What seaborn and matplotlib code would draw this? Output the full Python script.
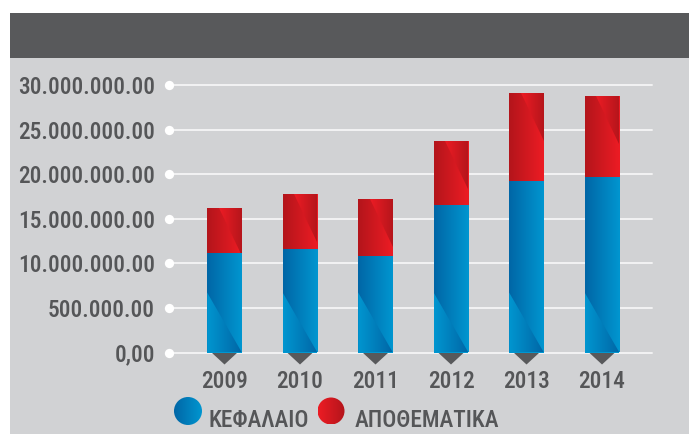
import numpy as np
import pandas as pd
import matplotlib
matplotlib.use('Agg')
import matplotlib.pyplot as plt
import seaborn as sns
from matplotlib.patches import Rectangle, Polygon, Circle
from matplotlib.colors import to_rgb

# ---- data ----
years = ['2009', '2010', '2011', '2012', '2013', '2014']
kefalaio = [11.15e6, 11.6e6, 10.85e6, 16.5e6, 19.2e6, 19.7e6]
apothematika = [5.05e6, 6.2e6, 6.35e6, 7.2e6, 9.9e6, 9.05e6]
ytick_vals = [0, 5e6, 10e6, 15e6, 20e6, 25e6, 30e6]
ytick_labels = ['0,00', '500.000.00', '10.000.000.00', '15.000.000.00',
                '20.000.000.00', '25.000.000.00', '30.000.000.00']
legend_labels = ['ΚΕΦΑΛΑΙΟ', 'ΑΠΟΘΕΜΑΤΙΚΑ']

# ---- style ----
GRAY = '#d1d2d4'
DARK = '#58595b'
TEXT = '#555658'
GRID = '#f2f2f3'
BLUE_D, BLUE_L = '#0066a6', '#0096d0'
RED_D, RED_L = '#b3151b', '#ed1c24'
FS = 16.8
FW = 'medium'

sns.set_theme(style='white')
plt.rcParams['font.family'] = ['Roboto Condensed', 'DejaVu Sans']
plt.rcParams['font.weight'] = FW

W, H = 689, 434
fig = plt.figure(figsize=(W / 100, H / 100), dpi=100)
fig.patch.set_facecolor('white')

# background axes in pixel coordinates
bg = fig.add_axes([0, 0, 1, 1], zorder=0)
bg.set_xlim(0, W)
bg.set_ylim(H, 0)
bg.axis('off')
bg.add_patch(Rectangle((10, 58), W - 10, H - 58, color=GRAY, lw=0))
bg.add_patch(Rectangle((10, 13), W - 10, 45, color=DARK, lw=0))


def gradient(axx, extent, c1, c2, clip, z):
    t = np.linspace(0, 1, 256)[None, :, None]
    img = (1 - t) * np.array(to_rgb(c1)) + t * np.array(to_rgb(c2))
    im = axx.imshow(img, extent=extent, aspect='auto', interpolation='bilinear',
                    origin='lower', zorder=z)
    im.set_clip_path(clip)
    return im


# main axes
ax_left, ax_right = 169, 652
ax_top, ax_bot = 85, 352.5
ax = fig.add_axes([ax_left / W, (H - ax_bot) / H, (ax_right - ax_left) / W,
                   (ax_bot - ax_top) / H], zorder=1)
ax.patch.set_alpha(0)

df = pd.DataFrame({'year': years, 'kef': kefalaio, 'apo': apothematika})
df['total'] = df['kef'] + df['apo']

sns.barplot(data=df, x='year', y='total', color=RED_L, width=0.46, ax=ax,
            zorder=2, saturation=1, errorbar=None, linewidth=0)
red_patches = list(ax.patches)
sns.barplot(data=df, x='year', y='kef', color=BLUE_L, width=0.46, ax=ax,
            zorder=3, saturation=1, errorbar=None, linewidth=0)
blue_patches = list(ax.patches)[len(red_patches):]

XLIM = (-0.735, 5.662)
YLIM = (0, 30e6)
ypx = (YLIM[1] - YLIM[0]) / (ax_bot - ax_top)

# gradients on bars
for p in red_patches:
    x0, w, h = p.get_x(), p.get_width(), p.get_height()
    x1 = x0 + w
    gradient(ax, [x0, x1, 0, h], RED_D, RED_L, p, 2.1)
    tri = Polygon([(x0 + w / 3, h), (x1, h), (x1, h - 48 * ypx)],
                  closed=True, transform=ax.transData)
    gradient(ax, [x0 + w / 3, x1, h - 48 * ypx, h], RED_L, RED_D, tri, 2.2)

for p in blue_patches:
    x0, w, h = p.get_x(), p.get_width(), p.get_height()
    x1 = x0 + w
    gradient(ax, [x0, x1, 0, h], BLUE_D, BLUE_L, p, 3.1)
    tri = Polygon([(x0, 0), (x0, 60 * ypx), (x1, 0)], closed=True,
                  transform=ax.transData)
    gradient(ax, [x0, x1, 0, 60 * ypx], BLUE_L, BLUE_D, tri, 3.2)

# triangles below bars
for i in range(len(years)):
    ax.add_patch(Polygon([(i - 0.172, 0), (i + 0.172, 0), (i, -12 * ypx)],
                         closed=True, color=DARK, lw=0, clip_on=False, zorder=1.5))

# gridlines and dots
for v in ytick_vals:
    ax.axhline(v, color=GRID, lw=1.4, zorder=1, clip_on=False)
ax.scatter([XLIM[0]] * len(ytick_vals), ytick_vals, s=45, color='white',
           zorder=4, clip_on=False, linewidths=0)

ax.set_xlim(*XLIM)
ax.set_ylim(*YLIM)
ax.set_yticks(ytick_vals, ytick_labels)
ax.set_xticks(range(len(years)), years)
ax.tick_params(axis='y', length=0, pad=10, labelsize=FS, labelcolor=TEXT)
ax.tick_params(axis='x', length=0, pad=12.5, labelsize=FS, labelcolor=TEXT)
for lab in ax.get_xticklabels() + ax.get_yticklabels():
    lab.set_fontweight(FW)
ax.set_xlabel('')
ax.set_ylabel('')
for s in ax.spines.values():
    s.set_visible(False)

# legend (pixel coords in bg axes)
c1 = Circle((188, 411), 14, transform=bg.transData)
gradient(bg, [174, 202, 425, 397], BLUE_D, BLUE_L, c1, 5)
bg.text(209, 427, legend_labels[0], fontsize=FS, fontweight=FW, color=TEXT,
        ha='left', va='baseline')
c2 = Circle((331, 411), 13.5, transform=bg.transData)
gradient(bg, [317.5, 344.5, 424.5, 397.5], RED_L, RED_D, c2, 5)
bg.text(355, 427, legend_labels[1], fontsize=FS, fontweight=FW, color=TEXT,
        ha='left', va='baseline')
bg.set_xlim(0, W)
bg.set_ylim(H, 0)

fig.savefig('out.png', dpi=100)
